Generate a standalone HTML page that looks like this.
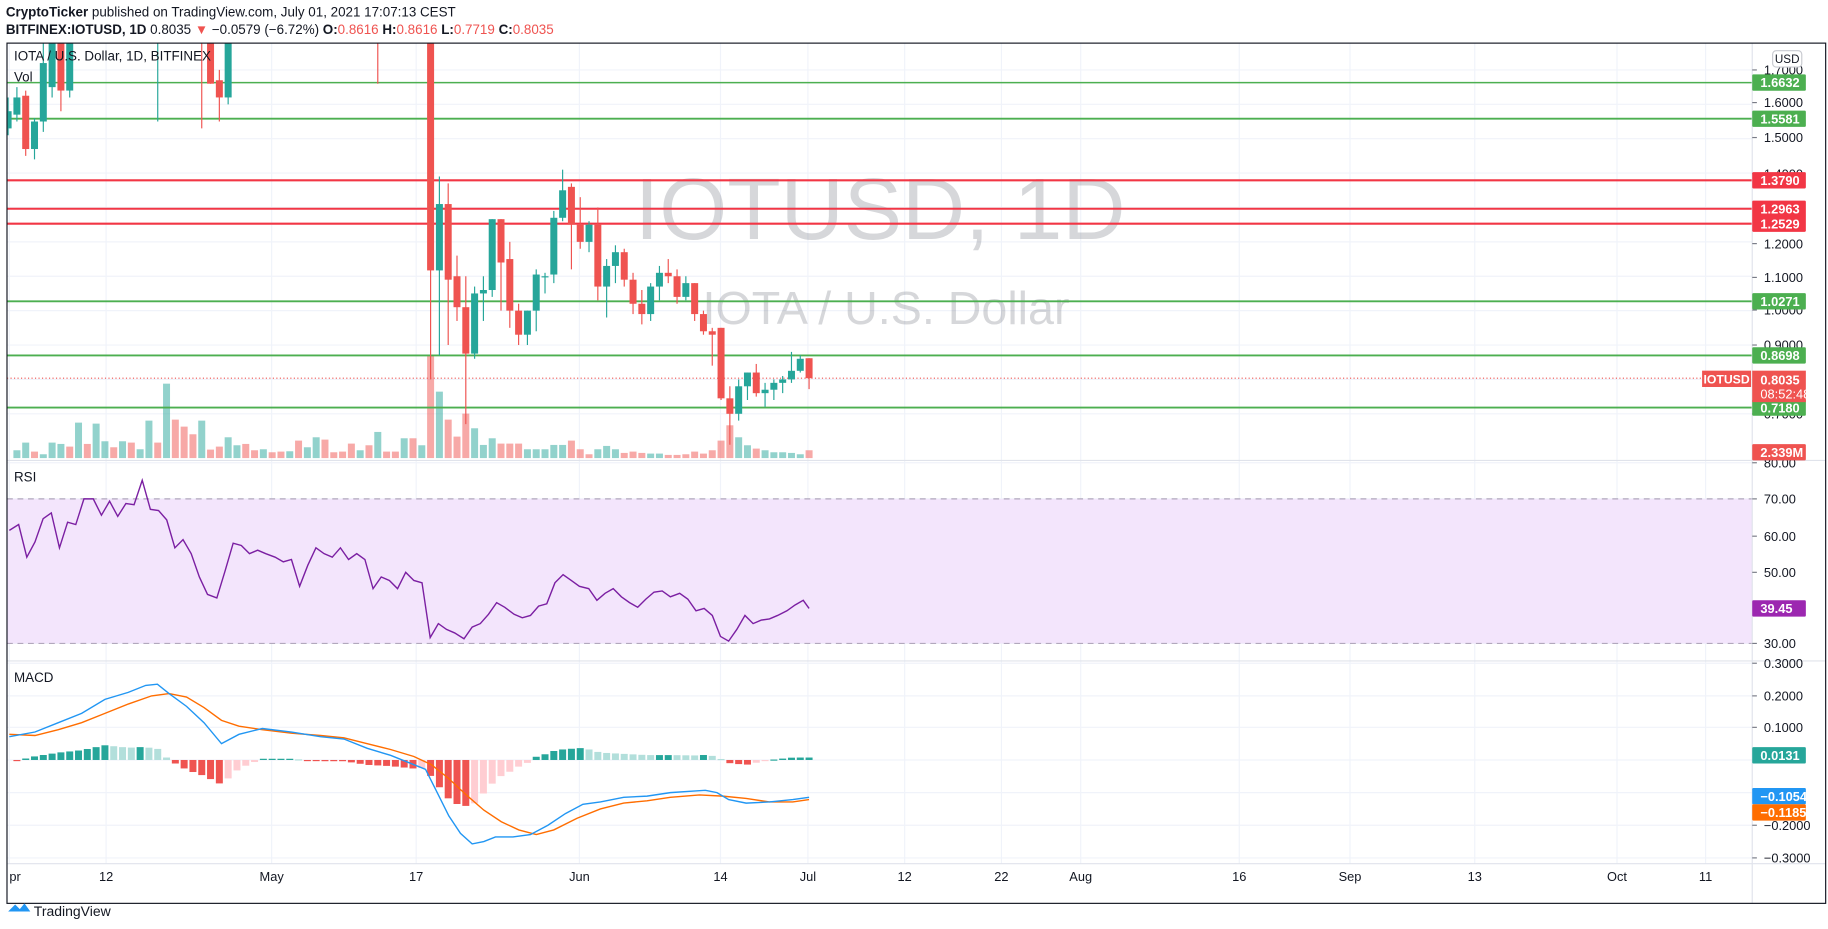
<!DOCTYPE html>
<html><head><meta charset="utf-8"><style>
html,body{margin:0;padding:0;background:#fff;}
svg{display:block;}
text{font-family:"Liberation Sans",sans-serif;}
</style></head><body>
<svg id="s" width="1828" height="929" viewBox="0 0 1568 797" preserveAspectRatio="none" xmlns="http://www.w3.org/2000/svg">
<rect width="1568" height="797" fill="#fff"/>
<text x="5" y="14" font-size="11.5" fill="#131722"><tspan font-weight="bold">CryptoTicker</tspan> published on TradingView.com, July 01, 2021 17:07:13 CEST</text>
<text x="5" y="29" font-size="11.5" fill="#131722"><tspan font-weight="bold">BITFINEX:IOTUSD, 1D</tspan> 0.8035 <tspan fill="#ef5350">▼</tspan> −0.0579 (−6.72%) <tspan font-weight="bold">O:</tspan><tspan fill="#ef5350">0.8616</tspan> <tspan font-weight="bold">H:</tspan><tspan fill="#ef5350">0.8616</tspan> <tspan font-weight="bold">L:</tspan><tspan fill="#ef5350">0.7719</tspan> <tspan font-weight="bold">C:</tspan><tspan fill="#ef5350">0.8035</tspan></text>
<defs><clipPath id="cp"><rect x="6" y="37" width="1497" height="358"/></clipPath></defs>
<g id="grid"></g>
<rect x="6" y="428" width="1497" height="124" fill="#f3e5fc"/>
<line x1="6" y1="428" x2="1503" y2="428" stroke="#b2a8bd" stroke-dasharray="5,4" stroke-width="1"/>
<line x1="6" y1="552" x2="1503" y2="552" stroke="#b2a8bd" stroke-dasharray="5,4" stroke-width="1"/>
<text x="755" y="205" font-size="75" fill="#787b86" fill-opacity="0.3" text-anchor="middle">IOTUSD, 1D</text>
<text x="760" y="278" font-size="40" fill="#787b86" fill-opacity="0.3" text-anchor="middle">IOTA / U.S. Dollar</text>
<g id="vol" clip-path="url(#cp)"></g>
<g id="hl"></g>
<g id="cd" clip-path="url(#cp)"></g>
<g id="ind"></g>
<text x="12" y="52" font-size="11.5" fill="#131722">IOTA / U.S. Dollar, 1D, BITFINEX</text>
<text x="12" y="70" font-size="11.5" fill="#131722">Vol</text>
<text x="12" y="413" font-size="11.5" fill="#131722">RSI</text>
<text x="12" y="585" font-size="11.5" fill="#131722">MACD</text>
<line x1="6" y1="395" x2="1566" y2="395" stroke="#e0e3eb"/>
<line x1="6" y1="567" x2="1566" y2="567" stroke="#e0e3eb"/>
<line x1="6" y1="741" x2="1566" y2="741" stroke="#e0e3eb"/>
<line x1="1503" y1="37" x2="1503" y2="775" stroke="#e0e3eb"/>
<rect x="6" y="37" width="1560" height="738" fill="none" stroke="#131722" stroke-width="1"/>
<g id="ax"></g>
<rect x="1520.5" y="43.5" width="25" height="14" rx="3" fill="#fff" stroke="#c8cad0"/>
<text x="1533" y="54" font-size="10" fill="#131722" text-anchor="middle">USD</text>
<g transform="translate(7,774)"><path d="M0 8 L6 2 L10 6 L14 1 L19 8 Z" fill="#2196f3"/></g>
<text x="29" y="786" font-size="12" fill="#131722">TradingView</text>
</svg>
<script>
const NS="http://www.w3.org/2000/svg";
function el(p,t,a,txt){const e=document.createElementNS(NS,t);for(const k in a)e.setAttribute(k,a[k]);if(txt!==undefined)e.textContent=txt;document.getElementById(p).appendChild(e);return e;}
const X=d=>694-(91-d)*7.55;
const PY=p=>60+(1.7-p)*295;
const G="#26a69a",R="#ef5350";
const vx=[8,91,233,357,497,618,693,776,859,927,1063,1158,1265,1387,1463];
vx.forEach(x=>{el("grid","line",{x1:x,y1:37,x2:x,y2:741,stroke:"#f0f3fa"});});
[1.7,1.6,1.5,1.4,1.3,1.2,1.1,1.0,0.9,0.8,0.7].forEach(p=>el("grid","line",{x1:6,y1:PY(p),x2:1503,y2:PY(p),stroke:"#f0f3fa"}));
[397,428,460,491,522,552].forEach(y=>el("grid","line",{x1:6,y1:y,x2:1503,y2:y,stroke:"#f0f3fa"}));
[569,597,624,652,680,708,736].forEach(y=>el("grid","line",{x1:6,y1:y,x2:1503,y2:y,stroke:"#f0f3fa"}));
const tl=[["pr",8],["12",91],["May",233],["17",357],["Jun",497],["14",618],["Jul",693],["12",776],["22",859],["Aug",927],["16",1063],["Sep",1158],["13",1265],["Oct",1387],["11",1463]];
tl.forEach(([t,x])=>el("ax","text",{x:x,y:756,"font-size":11,fill:"#131722","text-anchor":t=="pr"?"start":"middle"},t));
const vz=[[1352,1],[1329,1],[1356,0],[1364,1],[1329,1],[1333,1],[1341,0],[1269,1],[1333,0],[1272,1],[1325,1],[1343,0],[1325,1],[1329,0],[1349,1],[1263,1],[1329,0],[1152,1],[1260,0],[1281,0],[1304,0],[1263,1],[1350,0],[1341,0],[1313,1],[1337,1],[1333,0],[1352,0],[1349,1],[1358,0],[1356,0],[1355,1],[1323,0],[1343,1],[1313,1],[1320,0],[1358,0],[1356,0],[1332,0],[1352,1],[1337,0],[1297,1],[1356,0],[1356,0],[1316,1],[1316,0],[1337,1],[1065,0],[1176,1],[1260,0],[1311,0],[1242,0],[1286,1],[1336,1],[1316,1],[1332,0],[1332,0],[1332,0],[1349,1],[1349,1],[1349,1],[1336,1],[1336,1],[1323,0],[1349,0],[1364,0],[1349,1],[1339,1],[1349,1],[1360,0],[1356,0],[1360,0],[1362,1],[1362,1],[1366,0],[1366,0],[1364,0],[1356,0],[1362,0],[1352,0],[1323,0],[1277,0],[1313,1],[1337,1],[1347,0],[1352,1],[1358,1],[1358,1],[1360,1],[1364,1],[1352,0]];
const n=vz.length;
vz.forEach(([z,g],i)=>{const d=91-(n-1-i);const y=z/3.5;el("vol","rect",{x:X(d)-3,y:y,width:6,height:393-y,fill:g?G:R,"fill-opacity":0.5});});
[[1.6632,"#4caf50",1.3],[1.5581,"#4caf50",1.6],[1.379,"#f23645",1.8],[1.2963,"#f23645",1.8],[1.2529,"#f23645",1.8],[1.0271,"#4caf50",1.6],[0.8698,"#4caf50",1.6],[0.718,"#4caf50",1.6]].forEach(([p,c,w])=>{el("hl","line",{x1:6,y1:PY(p),x2:1503,y2:PY(p),stroke:c,"stroke-width":w});});
el("hl","line",{x1:6,y1:PY(0.8035),x2:1503,y2:PY(0.8035),stroke:"#ef5350","stroke-dasharray":"1,2","stroke-width":1});
const C=[[0,1.53,1.62,1.51,1.58],[1,1.57,1.65,1.55,1.62],[2,1.625,1.64,1.45,1.47],[3,1.47,1.56,1.44,1.55],[4,1.55,1.78,1.52,1.72],[5,1.65,1.9,1.62,1.85],[6,1.85,1.9,1.58,1.64],[7,1.64,1.9,1.62,1.85],
[17,1.9,2.0,1.55,1.95],[22,1.95,2.0,1.53,1.9],[23,1.9,1.95,1.66,1.66],[24,1.67,1.7,1.55,1.62],[25,1.62,1.95,1.6,1.9],[41,1.9,2,1.78,1.95],[42,1.95,2.0,1.66,1.9],[46,1.95,2.0,1.78,1.9],
[48,1.9,1.95,0.8,1.117],[49,1.117,1.39,0.87,1.31],[50,1.31,1.37,0.90,1.09],[51,1.10,1.16,0.97,1.01],[52,1.01,1.1,0.67,0.875],[53,0.875,1.07,0.86,1.05],[54,1.05,1.1,0.97,1.06],[55,1.06,1.266,1.04,1.266],[56,1.266,1.266,1.0,1.14],[57,1.15,1.20,0.95,1.0],[58,1.0,1.02,0.90,0.93],[59,0.93,1.0,0.9,1.0],[60,1.0,1.12,0.94,1.105],[61,1.10,1.11,1.05,1.10],[62,1.105,1.29,1.08,1.27],[63,1.27,1.41,1.26,1.35],[64,1.36,1.37,1.12,1.25],[65,1.25,1.33,1.18,1.20],[66,1.20,1.26,1.17,1.25],[67,1.25,1.30,1.03,1.07],[68,1.07,1.15,0.98,1.13],[69,1.13,1.19,1.08,1.17],[70,1.17,1.18,1.07,1.09],[71,1.09,1.11,0.99,1.02],[72,1.02,1.06,0.96,0.99],[73,0.99,1.08,0.97,1.07],[74,1.07,1.13,1.03,1.11],[75,1.11,1.15,1.08,1.10],[76,1.10,1.12,1.02,1.04],[77,1.04,1.10,1.03,1.08],[78,1.08,1.08,0.97,0.99],[79,0.99,1.0,0.93,0.94],[80,0.94,0.95,0.84,0.93],[81,0.95,0.95,0.74,0.745],[82,0.745,0.78,0.61,0.70],[83,0.70,0.80,0.68,0.78],[84,0.78,0.82,0.74,0.82],[85,0.82,0.845,0.75,0.76],[86,0.76,0.79,0.72,0.77],[87,0.77,0.80,0.74,0.79],[88,0.79,0.81,0.76,0.80],[89,0.80,0.88,0.79,0.825],[90,0.825,0.87,0.82,0.86],[91,0.8616,0.8616,0.7719,0.8035]];
C.forEach(([d,o,h,l,c])=>{const x=X(d),col=c>=o?G:R;el("cd","line",{x1:x,y1:PY(h),x2:x,y2:PY(l),stroke:col,"stroke-width":1});const t=PY(Math.max(o,c)),b=PY(Math.min(o,c));el("cd","rect",{x:x-3,y:t,width:6,height:Math.max(1,b-t),fill:col});});
const rsi=[[8,455],[16,450],[23,478],[30,465],[37,445],[44,440],[51,470],[58,448],[65,450],[72,428],[80,428],[87,442],[94,430],[101,443],[108,432],[115,433],[122,412],[129,437],[136,438],[143,446],[150,470],[157,463],[164,475],[171,495],[178,510],[186,513],[193,490],[200,466],[207,468],[214,475],[221,472],[228,475],[236,478],[243,482],[250,480],[257,503],[264,485],[271,470],[278,475],[285,478],[292,470],[299,480],[306,475],[313,480],[320,505],[327,495],[334,498],[341,505],[348,491],[355,498],[362,500],[369,547],[376,535],[383,540],[390,543],[398,548],[405,538],[412,535],[419,527],[426,517],[433,521],[441,527],[448,530],[455,528],[462,520],[469,518],[476,500],[483,493],[490,498],[497,503],[505,505],[512,515],[519,509],[526,505],[533,512],[540,517],[547,521],[554,514],[561,508],[568,507],[575,512],[583,509],[590,514],[597,524],[604,522],[611,528],[618,546],[625,550],[632,540],[639,528],[646,535],[653,532],[660,531],[667,528],[675,524],[682,519],[689,515],[694,522]];
el("ind","polyline",{points:rsi.map(p=>p.join(",")).join(" "),fill:"none",stroke:"#7b1fa2","stroke-width":1.2});
const B=[[8,632],[30,628],[50,620],[70,612],[90,600],[110,594],[125,588],[135,587],[145,595],[160,606],[175,620],[190,638],[205,630],[225,625],[250,628],[275,632],[295,634],[315,642],[335,648],[350,654],[365,660],[375,680],[385,700],[395,715],[405,724],[415,722],[425,718],[440,718],[455,716],[470,708],[485,698],[500,690],[515,688],[535,684],[555,683],[575,680],[590,679],[605,678],[615,680],[625,686],[640,689],[660,688],[680,686],[694,684]];
const O=[[8,630],[30,631],[50,626],[70,620],[90,612],[110,604],[130,597],[145,595],[160,598],[175,607],[190,618],[205,623],[225,626],[250,629],[275,631],[295,633],[315,638],[335,643],[355,649],[370,656],[385,668],[400,682],[415,695],[430,705],[445,712],[460,716],[475,712],[495,702],[515,694],[535,689],[555,687],[575,684],[600,682],[620,683],[640,685],[660,688],[680,688],[694,686]];
function itp(a,x){for(let i=0;i<a.length-1;i++){if(x<=a[i+1][0]){const t=(x-a[i][0])/(a[i+1][0]-a[i][0]);return a[i][1]+t*(a[i+1][1]-a[i][1]);}}return a[a.length-1][1];}
let prev=0;
for(let d=0;d<=91;d++){const x=X(d);if(x<8)continue;let h=(itp(O,x)-itp(B,x))*1.05;let col;if(h>=0)col=h>=prev?G:"#b2dfdb";else col=h<=prev?R:"#ffcdd2";prev=h;el("ind","rect",{x:x-3,y:h>=0?652-h:652,width:6,height:Math.max(1,Math.abs(h)),fill:col});}
el("ind","polyline",{points:O.map(p=>p.join(",")).join(" "),fill:"none",stroke:"#ff6d00","stroke-width":1.2});
el("ind","polyline",{points:B.map(p=>p.join(",")).join(" "),fill:"none",stroke:"#2196f3","stroke-width":1.2});
const al=[["1.7000",60],["1.6000",88],["1.5000",118],["1.4000",149],["1.2000",209],["1.1000",238],["1.0000",266],["0.9000",296],["0.7000",355],["80.00",397],["70.00",428],["60.00",460],["50.00",491],["30.00",552],["0.3000",569],["0.2000",597],["0.1000",624],["−0.2000",708],["−0.3000",736]];
al.forEach(([t,y])=>{el("ax","line",{x1:1503,y1:y,x2:1507,y2:y,stroke:"#787b86"});el("ax","text",{x:1513,y:y+4,"font-size":11,fill:"#131722"},t);});
function lab(t,y,c,h){el("ax","rect",{x:1503,y:y-7,width:46,height:h||14,rx:1,fill:c});el("ax","text",{x:1510,y:y+4,"font-size":11,"font-weight":"bold",fill:"#fff"},t);}
lab("1.6632",PY(1.6632),"#4caf50");lab("1.5581",PY(1.5581),"#4caf50");lab("1.3790",PY(1.379),"#f23645");lab("1.2963",PY(1.2963),"#f23645");lab("1.2529",PY(1.2529),"#f23645");lab("1.0271",PY(1.0271),"#4caf50");lab("0.8698",PY(0.8698),"#4caf50");lab("0.7180",PY(0.718),"#4caf50");
el("ax","rect",{x:1503,y:318,width:46,height:27,fill:"#ef5350"});
el("ax","text",{x:1510,y:330,"font-size":11,"font-weight":"bold",fill:"#fff"},"0.8035");
el("ax","text",{x:1510,y:342,"font-size":11,fill:"#fff"},"08:52:48");
el("ax","rect",{x:1460,y:318,width:42,height:14,fill:"#ef5350"});
el("ax","text",{x:1481,y:329,"font-size":10.5,"font-weight":"bold",fill:"#fff","text-anchor":"middle"},"IOTUSD");
lab("2.339M",388,"#ef5350");
lab("39.45",522,"#9c27b0",14);
lab("0.0131",648,"#26a69a");
lab("−0.1054",683,"#2196f3");
lab("−0.1185",697,"#ff6d00");
</script>
</body></html>
